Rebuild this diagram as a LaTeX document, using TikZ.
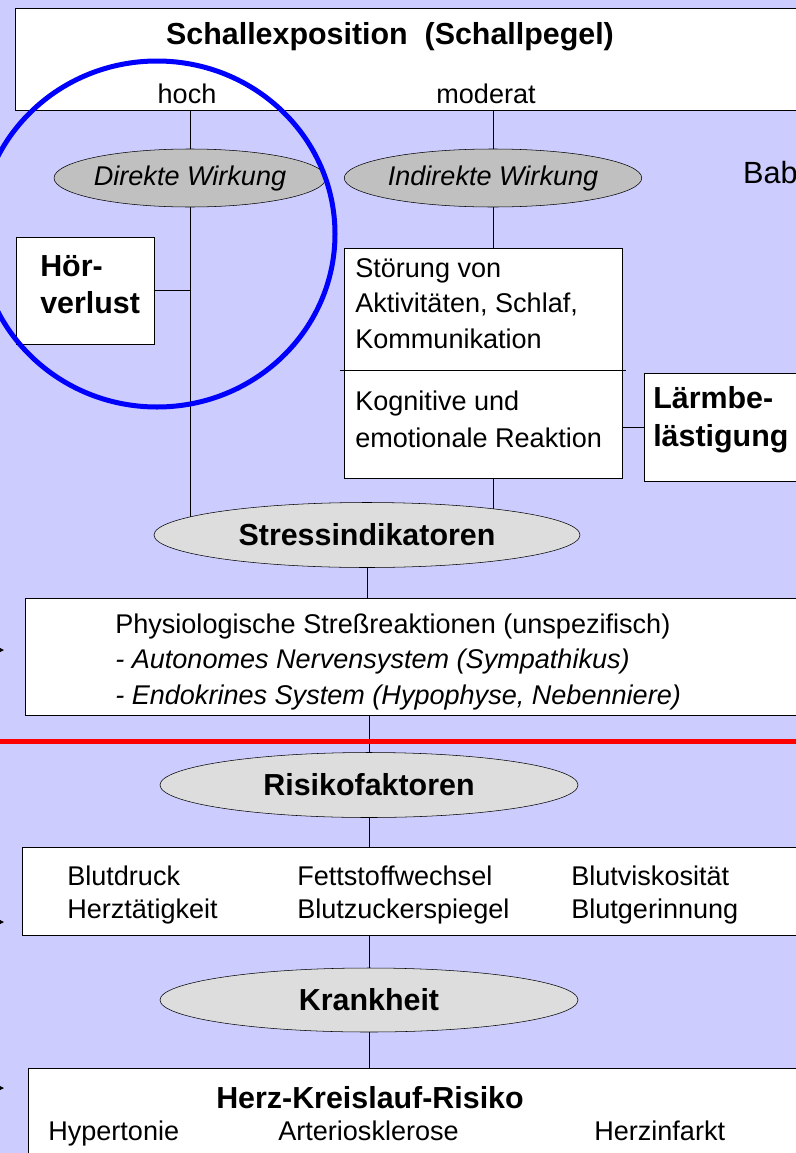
\documentclass[tikz,border=0pt]{standalone}
\usepackage{fontspec}
\setmainfont{Liberation Sans}
\usetikzlibrary{shapes.geometric, arrows.meta, fit, calc}
\definecolor{lavender}{RGB}{204,204,255}
\definecolor{ovalgray}{RGB}{192,192,192}
\definecolor{lightoval}{RGB}{221,221,221}
\newcommand{\regtext}{\fontsize{20.3}{26.3}\selectfont}
\newcommand{\boldtext}{\fontsize{22.8}{27.5}\selectfont\bfseries}
\pgfdeclarelayer{paper}
\pgfdeclarelayer{wires}
\pgfsetlayers{paper,wires,main}

\begin{document}
\begin{tikzpicture}[x=0.75pt, y=-0.75pt, line width=2.3pt,
    box/.style={draw, fill=white, inner sep=0pt},
    oval/.style={ellipse, draw, inner sep=0pt},
    txt/.style={inner sep=0pt, anchor=base west, align=left, font=\regtext},
    boldtxt/.style={txt, font=\boldtext}]
        \clip (0,0) rectangle (796,1153);
        \begin{pgfonlayer}{paper}
            \fill[lavender] (0,0) rectangle (796,1153);
        \end{pgfonlayer}

        % Schallexposition (top)
        \node[box, fit={(15,8) (830,110)}] (exposition) {};
        \node[boldtxt, anchor=base] (expoTitle) at (390,44) {Schallexposition\ \ (Schallpegel)};
        \node[txt, anchor=base] (hoch) at (187,103) {hoch};
        \node[txt, anchor=base] (moderat) at (486,103) {moderat};
        \node[txt, anchor=base east, font=\fontsize{23}{28}\selectfont] (bab) at (798,183) {Bab};

        % Wirkungspfade
        \node[oval, fill=ovalgray, minimum width=198.75pt, minimum height=43.5pt, font={\regtext\itshape}] (direkt) at (190,178) {Direkte Wirkung};
        \node[oval, fill=ovalgray, minimum width=198.75pt, minimum height=43.5pt, font={\regtext\itshape}] (indirekt) at (493,178) {Indirekte Wirkung};

        % direkte Seite
        \node[box, fit={(16,237) (154,344)}] (hoerverlust) {};
        \node[boldtxt, font={\fontsize{22.8}{27.5}\selectfont\bfseries}] (hoerText) at (40,313) {Hör-\\verlust};

        % indirekte Seite
        \node[box, fit={(344,248) (622,478)}] (stoerung) {};
        \coordinate (split) at (483,370);
        \draw ([xshift=-3pt]stoerung.west |- split) -- ([xshift=3pt]stoerung.east |- split);
        \node[txt] (stoerText) at (355,348) {Störung von\\Aktivitäten, Schlaf,\\Kommunikation};
        \node[txt, font={\fontsize{20.3}{27.5}\selectfont}] (reaktText) at (355,447) {Kognitive und\\emotionale Reaktion};
        \node[box, fit={(644,373) (830,481)}] (laerm) {};
        \node[boldtxt, font={\fontsize{22.8}{28.5}\selectfont\bfseries}] (laermText) at (653,446) {Lärmbe-\\lästigung};

        % Stress
        \node[oval, fill=lightoval, minimum width=319.5pt, minimum height=48.75pt, font=\boldtext] (stress) at (367,535) {Stressindikatoren};
        \node[box, fit={(25,598) (830,715)}] (physio) {};
        \node[txt] (physioText) at (115,704) {Physiologische Streßreaktionen (unspezifisch)\\
            \textit{- Autonomes Nervensystem (Sympathikus)}\\
            \textit{- Endokrines System (Hypophyse, Nebenniere)}};

        % Risikofaktoren
        \node[oval, fill=lightoval, minimum width=313.5pt, minimum height=48.75pt, font=\boldtext] (risiko) at (369,785) {Risikofaktoren};
        \node[box, fit={(22,847) (830,935)}] (faktoren) {};
        \node[txt, font={\fontsize{20.3}{24.75}\selectfont}] (kreislauf) at (67,918) {Blutdruck\\Herztätigkeit};
        \node[txt, font={\fontsize{20.3}{24.75}\selectfont}] (stoffwechsel) at (297,918) {Fettstoffwechsel\\Blutzuckerspiegel};
        \node[txt, font={\fontsize{20.3}{24.75}\selectfont}] (blut) at (571,918) {Blutviskosität\\Blutgerinnung};

        % Krankheit
        \node[oval, fill=lightoval, minimum width=313.5pt, minimum height=48pt, font=\boldtext] (krankheit) at (369,1000) {Krankheit};
        \node[box, fit={(28,1068) (830,1180)}] (herz) {};
        \node[boldtxt, anchor=base] (herzTitle) at (370,1108) {Herz-Kreislauf-Risiko};
        \node[txt] (hypertonie) at (48,1140) {Hypertonie};
        \node[txt] (sklerose) at (278,1140) {Arteriosklerose};
        \node[txt] (infarkt) at (594,1140) {Herzinfarkt};

        % Verbindungen
        \begin{pgfonlayer}{wires}
            \draw (exposition.south -| direkt.north) -- (direkt.north);
            \draw (exposition.south -| indirekt.north) -- (indirekt.north);
            \draw (direkt.center) -- (direkt.center |- stress.center);
            \draw (hoerverlust.east) -- (hoerverlust.east -| direkt.center);
            \draw (indirekt.center) -- (indirekt.center |- stress.center);
            \draw (laerm.west) -- (laerm.west -| stoerung.east);
            \draw (stress.center) -- (stress.center |- physio.north);
            \draw (physio.south -| risiko.north) -- (risiko.north);
            \draw (risiko.center) -- (risiko.center |- faktoren.north);
            \draw (faktoren.south -| krankheit.north) -- (krankheit.north);
            \draw (krankheit.center) -- (krankheit.center |- herz.north);
        \end{pgfonlayer}

        % abgeschnittene Pfeile links
        \coordinate (arrA) at (4,650);
        \coordinate (arrB) at (4,922);
        \coordinate (arrC) at (4,1088);
        \foreach \a in {arrA, arrB, arrC}
            \draw[line width=1pt, -{Stealth[length=5pt, width=5pt]}] ([xshift=-20pt]\a) -- (\a);

        % Grenze
        \coordinate (cutL) at (0,741);
        \coordinate (cutR) at (796,741);
        \draw[red, line width=3.75pt] (cutL) -- (cutR);

        % Markierung
        \node[draw=blue, line width=3.75pt, ellipse, inner sep=0pt, minimum width=267pt, minimum height=259.5pt] (focus) at (157,234) {};
    \end{tikzpicture}
\end{document}
